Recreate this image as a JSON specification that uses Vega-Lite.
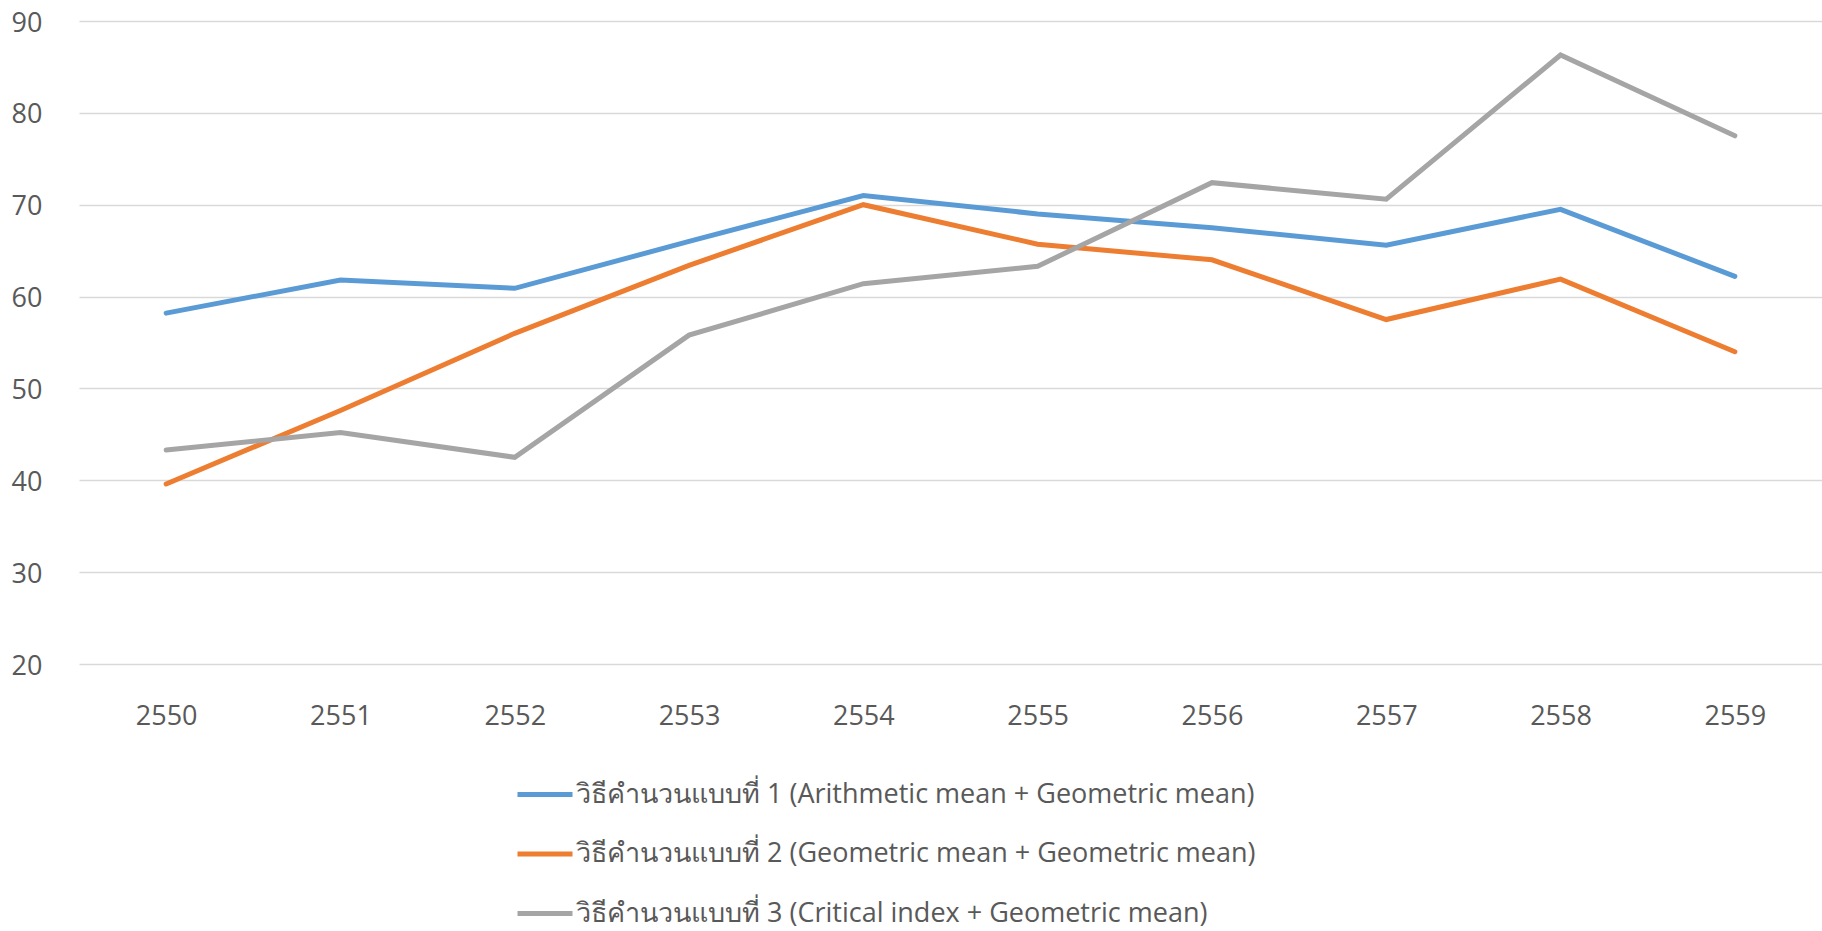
{
  "$schema": "https://vega.github.io/schema/vega-lite/v6.json",
  "width": 1743,
  "height": 643,
  "autosize": "none",
  "padding": {"left": 79, "top": 21, "right": 0, "bottom": 267},
  "background": "white",
  "config": {
    "view": {"stroke": null},
    "font": "Open Sans"
  },
  "data": {
    "values": [
      {"year": "2550", "series": "วิธีคำนวนแบบที่ 1 (Arithmetic mean + Geometric mean)", "value": 58.2},
      {"year": "2551", "series": "วิธีคำนวนแบบที่ 1 (Arithmetic mean + Geometric mean)", "value": 61.8},
      {"year": "2552", "series": "วิธีคำนวนแบบที่ 1 (Arithmetic mean + Geometric mean)", "value": 60.9},
      {"year": "2553", "series": "วิธีคำนวนแบบที่ 1 (Arithmetic mean + Geometric mean)", "value": 66.0},
      {"year": "2554", "series": "วิธีคำนวนแบบที่ 1 (Arithmetic mean + Geometric mean)", "value": 71.0},
      {"year": "2555", "series": "วิธีคำนวนแบบที่ 1 (Arithmetic mean + Geometric mean)", "value": 69.0},
      {"year": "2556", "series": "วิธีคำนวนแบบที่ 1 (Arithmetic mean + Geometric mean)", "value": 67.5},
      {"year": "2557", "series": "วิธีคำนวนแบบที่ 1 (Arithmetic mean + Geometric mean)", "value": 65.6},
      {"year": "2558", "series": "วิธีคำนวนแบบที่ 1 (Arithmetic mean + Geometric mean)", "value": 69.5},
      {"year": "2559", "series": "วิธีคำนวนแบบที่ 1 (Arithmetic mean + Geometric mean)", "value": 62.2},
      {"year": "2550", "series": "วิธีคำนวนแบบที่ 2 (Geometric mean + Geometric mean)", "value": 39.6},
      {"year": "2551", "series": "วิธีคำนวนแบบที่ 2 (Geometric mean + Geometric mean)", "value": 47.6},
      {"year": "2552", "series": "วิธีคำนวนแบบที่ 2 (Geometric mean + Geometric mean)", "value": 56.0},
      {"year": "2553", "series": "วิธีคำนวนแบบที่ 2 (Geometric mean + Geometric mean)", "value": 63.4},
      {"year": "2554", "series": "วิธีคำนวนแบบที่ 2 (Geometric mean + Geometric mean)", "value": 70.0},
      {"year": "2555", "series": "วิธีคำนวนแบบที่ 2 (Geometric mean + Geometric mean)", "value": 65.7},
      {"year": "2556", "series": "วิธีคำนวนแบบที่ 2 (Geometric mean + Geometric mean)", "value": 64.0},
      {"year": "2557", "series": "วิธีคำนวนแบบที่ 2 (Geometric mean + Geometric mean)", "value": 57.5},
      {"year": "2558", "series": "วิธีคำนวนแบบที่ 2 (Geometric mean + Geometric mean)", "value": 61.9},
      {"year": "2559", "series": "วิธีคำนวนแบบที่ 2 (Geometric mean + Geometric mean)", "value": 54.0},
      {"year": "2550", "series": "วิธีคำนวนแบบที่ 3 (Critical index + Geometric mean)", "value": 43.3},
      {"year": "2551", "series": "วิธีคำนวนแบบที่ 3 (Critical index + Geometric mean)", "value": 45.2},
      {"year": "2552", "series": "วิธีคำนวนแบบที่ 3 (Critical index + Geometric mean)", "value": 42.5},
      {"year": "2553", "series": "วิธีคำนวนแบบที่ 3 (Critical index + Geometric mean)", "value": 55.8},
      {"year": "2554", "series": "วิธีคำนวนแบบที่ 3 (Critical index + Geometric mean)", "value": 61.4},
      {"year": "2555", "series": "วิธีคำนวนแบบที่ 3 (Critical index + Geometric mean)", "value": 63.3},
      {"year": "2556", "series": "วิธีคำนวนแบบที่ 3 (Critical index + Geometric mean)", "value": 72.4},
      {"year": "2557", "series": "วิธีคำนวนแบบที่ 3 (Critical index + Geometric mean)", "value": 70.6},
      {"year": "2558", "series": "วิธีคำนวนแบบที่ 3 (Critical index + Geometric mean)", "value": 86.3},
      {"year": "2559", "series": "วิธีคำนวนแบบที่ 3 (Critical index + Geometric mean)", "value": 77.5}
    ]
  },
  "mark": {"type": "line", "strokeWidth": 5, "strokeCap": "round", "strokeJoin": "miter"},
  "encoding": {
    "x": {
      "field": "year",
      "type": "ordinal",
      "scale": {"type": "point", "padding": 0.5},
      "axis": {
        "title": null,
        "labelAngle": 0,
        "ticks": false,
        "domain": false,
        "grid": false,
        "labelFont": "Open Sans",
        "labelFontSize": 27,
        "labelColor": "#595959",
        "labelBaseline": "middle",
        "labelPadding": 52
      }
    },
    "y": {
      "field": "value",
      "type": "quantitative",
      "scale": {"domain": [20, 90], "nice": false, "zero": false},
      "axis": {
        "title": null,
        "values": [20, 30, 40, 50, 60, 70, 80, 90],
        "ticks": false,
        "domain": false,
        "gridColor": "#D9D9D9",
        "gridWidth": 1.5,
        "labelFont": "Open Sans",
        "labelFontSize": 27,
        "labelColor": "#595959",
        "labelPadding": 37,
        "labelOffset": 2
      }
    },
    "color": {
      "field": "series",
      "type": "nominal",
      "scale": {
        "domain": [
          "วิธีคำนวนแบบที่ 1 (Arithmetic mean + Geometric mean)",
          "วิธีคำนวนแบบที่ 2 (Geometric mean + Geometric mean)",
          "วิธีคำนวนแบบที่ 3 (Critical index + Geometric mean)"
        ],
        "range": ["#5B9BD5", "#ED7D31", "#A5A5A5"]
      },
      "legend": {
        "title": null,
        "orient": "none",
        "legendX": 436,
        "legendY": 746,
        "direction": "vertical",
        "symbolType": "stroke",
        "symbolSize": 3025,
        "symbolStrokeWidth": 5,
        "labelFont": "Open Sans",
        "labelFontSize": 27,
        "labelColor": "#595959",
        "labelOffset": 1,
        "labelLimit": 1000,
        "clipHeight": 55,
        "rowPadding": 4.5
      }
    }
  }
}
